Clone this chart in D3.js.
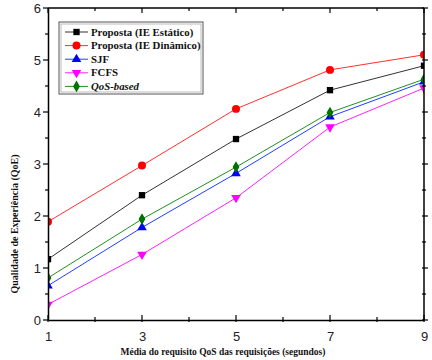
<!DOCTYPE html>
<html>
<head>
<meta charset="utf-8">
<script src="https://cdn.jsdelivr.net/npm/d3@7"></script>
<style>
  body { margin: 0; background: #fff; }
  svg { display: block; }
</style>
</head>
<body>
<div id="chart"></div>
<script>
// data
const xValues = [1, 3, 5, 7, 9];
const estatico = [1.17, 2.40, 3.48, 4.42, 4.89];
const dinamico = [1.89, 2.97, 4.06, 4.81, 5.10];
const sjf = [0.66, 1.78, 2.82, 3.91, 4.58];
const fcfs = [0.30, 1.26, 2.35, 3.71, 4.46];
const qosBased = [0.81, 1.94, 2.94, 3.99, 4.63];
const seriesNames = ["Proposta (IE Estático)", "Proposta (IE Dinâmico)", "SJF", "FCFS", "QoS-based"];
const yTicks = [0, 1, 2, 3, 4, 5, 6];

const series = [
  { name: seriesNames[0], values: estatico, color: "#000", line: "#333", symbol: d3.symbolSquare, size: 40 },
  { name: seriesNames[1], values: dinamico, color: "#ff0000", line: "#ff3030", symbol: d3.symbolCircle, size: 50 },
  { name: seriesNames[2], values: sjf, color: "#0000ff", line: "#2040ff", symbol: d3.symbolTriangle, size: 40 },
  { name: seriesNames[3], values: fcfs, color: "#ff00ff", line: "#ff20ff", symbol: d3.symbolTriangle, size: 40, flip: true },
  { name: seriesNames[4], values: qosBased, color: "#007000", line: "#209020", symbol: d3.symbolDiamond, size: 40 }
];

const W = 432, H = 360;
const mLeft = 48, mRight = 424, mTop = 8, mBottom = 320;

const svg = d3.select("#chart").append("svg")
  .attr("width", W).attr("height", H);

const x = d3.scaleLinear().domain([1, 9]).range([mLeft, mRight]);
const y = d3.scaleLinear().domain([0, 6]).range([mBottom, mTop]);

svg.append("clipPath").attr("id", "clip")
  .append("rect").attr("x", mLeft).attr("y", mTop)
  .attr("width", mRight - mLeft).attr("height", mBottom - mTop);

// lines and markers
const plot = svg.append("g").attr("clip-path", "url(#clip)");
const line = d3.line().x((d, i) => x(xValues[i])).y(d => y(d));

series.forEach(s => {
  plot.append("path")
    .datum(s.values)
    .attr("fill", "none")
    .attr("stroke", s.line)
    .attr("stroke-width", 1)
    .attr("d", line);
  plot.selectAll(null)
    .data(s.values)
    .enter()
    .append("path")
    .attr("d", d3.symbol().type(s.symbol).size(s.size))
    .attr("transform", (d, i) => `translate(${x(xValues[i])},${y(d)})` + (s.flip ? " rotate(180)" : ""))
    .attr("fill", s.color);
});

// axes
const axisFont = "Liberation Sans, Arial, sans-serif";
const minorX = d3.range(1, 9.01, 1);
const minorY = d3.range(0, 6.01, 0.5);

const bottomAxis = svg.append("g")
  .attr("transform", `translate(0,${mBottom})`)
  .call(d3.axisBottom(x).tickValues(xValues).tickSize(0).tickPadding(12).tickFormat(d3.format("d")));
bottomAxis.select(".domain").attr("stroke", "#000").attr("stroke-width", 1.5);
bottomAxis.selectAll("text").attr("font-family", axisFont).attr("font-size", 13).attr("fill", "#222");

const leftAxis = svg.append("g")
  .attr("transform", `translate(${mLeft},0)`)
  .call(d3.axisLeft(y).tickValues(yTicks).tickSize(0).tickPadding(7).tickFormat(d3.format("d")));
leftAxis.select(".domain").attr("stroke", "#000").attr("stroke-width", 1.5);
leftAxis.selectAll("text").attr("font-family", axisFont).attr("font-size", 13).attr("fill", "#222");

const frame = svg.append("g").attr("stroke", "#000");
frame.append("line").attr("x1", mLeft).attr("x2", mRight).attr("y1", mTop).attr("y2", mTop).attr("stroke-width", 1.5);
frame.append("line").attr("x1", mRight).attr("x2", mRight).attr("y1", mTop).attr("y2", mBottom).attr("stroke-width", 1.5);

// tick marks: bottom/top point inward, left/right outward a bit
minorX.forEach(v => {
  const len = v % 2 === 1 ? 5 : 3;
  frame.append("line").attr("x1", x(v)).attr("x2", x(v)).attr("y1", mBottom).attr("y2", mBottom - len).attr("stroke-width", 1.2);
  frame.append("line").attr("x1", x(v)).attr("x2", x(v)).attr("y1", mTop).attr("y2", mTop + len).attr("stroke-width", 1.2);
  frame.append("line").attr("x1", x(v)).attr("x2", x(v)).attr("y1", mBottom).attr("y2", mBottom + 2).attr("stroke-width", 1.2);
});
minorY.forEach(v => {
  const len = v % 1 === 0 ? 5 : 3;
  frame.append("line").attr("x1", mLeft).attr("x2", mLeft - len).attr("y1", y(v)).attr("y2", y(v)).attr("stroke-width", 1.2);
  frame.append("line").attr("x1", mRight - 2).attr("x2", mRight + len - 1).attr("y1", y(v)).attr("y2", y(v)).attr("stroke-width", 1.2);
});

// axis titles
const titleFont = "Liberation Serif, Times New Roman, serif";
svg.append("text")
  .attr("x", 223).attr("y", 355)
  .attr("text-anchor", "middle")
  .attr("font-family", titleFont).attr("font-weight", "bold").attr("font-size", 9.5)
  .attr("fill", "#111")
  .text("Média do requisito QoS das requisições (segundos)");
svg.append("text")
  .attr("transform", `translate(18,224) rotate(-90)`)
  .attr("text-anchor", "middle")
  .attr("font-family", titleFont).attr("font-weight", "bold").attr("font-size", 10)
  .attr("fill", "#111")
  .text("Qualidade de Experiência (QoE)");

// legend
const legend = svg.append("g");
legend.append("rect").attr("x", 59).attr("y", 22).attr("width", 144).attr("height", 72)
  .attr("fill", "#fff").attr("stroke", "#555").attr("stroke-width", 1);
legend.append("rect").attr("x", 61).attr("y", 24).attr("width", 140).attr("height", 68)
  .attr("fill", "none").attr("stroke", "#aaa").attr("stroke-width", 0.8);

series.forEach((s, i) => {
  const ly = 32 + i * 13.6;
  legend.append("line").attr("x1", 65).attr("x2", 88).attr("y1", ly).attr("y2", ly)
    .attr("stroke", s.line).attr("stroke-width", 1);
  legend.append("path")
    .attr("d", d3.symbol().type(s.symbol).size(s.size))
    .attr("transform", `translate(76.5,${ly})` + (s.flip ? " rotate(180)" : ""))
    .attr("fill", s.color);
  legend.append("text")
    .attr("x", 91).attr("y", ly + 3.5)
    .attr("font-family", titleFont).attr("font-weight", "bold").attr("font-size", 10.8)
    .attr("font-style", i === 4 ? "italic" : "normal")
    .attr("fill", "#111")
    .text(s.name);
});
</script>
</body>
</html>
